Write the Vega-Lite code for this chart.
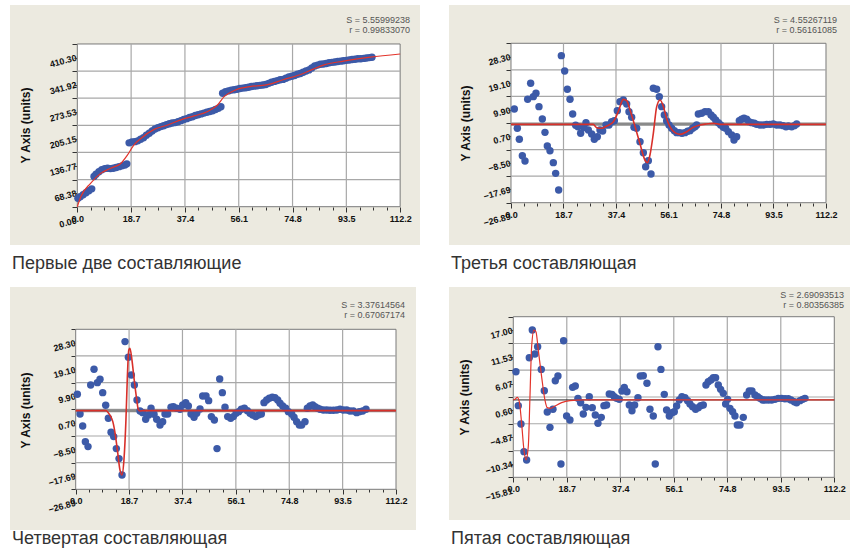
{
"$schema": "https://vega.github.io/schema/vega-lite/v6.json",
"background": "white",
"padding": {"left": 10, "top": 5, "right": 0, "bottom": 0},
"autosize": {"type": "pad"},
"config": {
  "view": {"fill": "#ECEAE0", "stroke": null},
  "axis": {"labelFont": "Liberation Sans", "labelFontSize": 9, "labelFontWeight": "bold", "labelColor": "#111111", "tickColor": "#333333", "tickSize": 5, "domain": false, "grid": false, "labelFlush": false, "labelOverlap": false, "labelBound": false, "titleFont": "Liberation Sans", "titleFontSize": 12, "titleFontWeight": "bold", "titleColor": "#111111"},
  "axisY": {"labelAngle": -15, "labelAlign": "right", "labelBaseline": "middle", "labelOffset": 13, "labelPadding": -4},
  "axisX": {"labelPadding": 2}
},
"datasets": {
  "p1": [{"x":0.2,"y":21},{"x":1,"y":25},{"x":2,"y":30},{"x":3,"y":35},{"x":4,"y":40},{"x":5,"y":45},{"x":5.8,"y":76},{"x":6.5,"y":82},{"x":7.5,"y":88},{"x":8.5,"y":93},{"x":9.5,"y":96},{"x":10.5,"y":97},{"x":11.5,"y":96},{"x":12.5,"y":97},{"x":13.5,"y":99},{"x":14.5,"y":101},{"x":15.5,"y":103},{"x":16.5,"y":105},{"x":17.2,"y":108},{"x":18,"y":161},{"x":19,"y":163},{"x":20,"y":164},{"x":21,"y":166},{"x":22,"y":170},{"x":23,"y":174},{"x":24,"y":180},{"x":25,"y":185},{"x":26,"y":191},{"x":27,"y":196},{"x":28,"y":199},{"x":29,"y":202},{"x":30,"y":204},{"x":31,"y":207},{"x":32,"y":209},{"x":33,"y":211},{"x":34,"y":212},{"x":35,"y":214},{"x":36,"y":217},{"x":37,"y":220},{"x":38,"y":222},{"x":39,"y":225},{"x":40,"y":227},{"x":41,"y":230},{"x":42,"y":232},{"x":43,"y":234},{"x":44,"y":236},{"x":45,"y":238},{"x":46,"y":240},{"x":47,"y":242},{"x":48,"y":245},{"x":49,"y":248},{"x":49.9,"y":252},{"x":50.5,"y":286},{"x":51.5,"y":290},{"x":52.5,"y":292},{"x":53.5,"y":294},{"x":54.5,"y":295},{"x":55.5,"y":296},{"x":56.5,"y":298},{"x":57.5,"y":299},{"x":58.5,"y":300},{"x":59.5,"y":301},{"x":60.5,"y":303},{"x":61.5,"y":304},{"x":62.5,"y":305},{"x":63.5,"y":306},{"x":64.5,"y":307},{"x":65.5,"y":308},{"x":66.5,"y":311},{"x":67.5,"y":314},{"x":68.5,"y":316},{"x":69.5,"y":318},{"x":70.5,"y":320},{"x":71.5,"y":321},{"x":72.5,"y":324},{"x":73.5,"y":327},{"x":74.5,"y":329},{"x":75.5,"y":331},{"x":76.5,"y":334},{"x":77.5,"y":336},{"x":78.5,"y":339},{"x":79.5,"y":342},{"x":80.5,"y":345},{"x":81.5,"y":350},{"x":82.5,"y":355},{"x":83.5,"y":357},{"x":84.5,"y":359},{"x":85.5,"y":360},{"x":86.5,"y":361},{"x":87.5,"y":363},{"x":88.5,"y":364},{"x":89.5,"y":365},{"x":90.5,"y":366},{"x":91.5,"y":367},{"x":92.5,"y":368},{"x":93.5,"y":369},{"x":94.5,"y":370},{"x":95.5,"y":371},{"x":96.5,"y":372},{"x":97.5,"y":373},{"x":98.5,"y":373},{"x":99.5,"y":374},{"x":100.5,"y":375},{"x":101.5,"y":376},{"x":102.4,"y":377}],
  "f1": [{"x":0,"y":0},{"x":1.2,"y":25},{"x":4.6,"y":59},{"x":8.1,"y":84},{"x":11.6,"y":97},{"x":15.1,"y":109},{"x":17.4,"y":130},{"x":19.7,"y":156},{"x":22.1,"y":172},{"x":26.7,"y":195},{"x":31.4,"y":206},{"x":36,"y":219},{"x":40.6,"y":229},{"x":45.3,"y":240},{"x":48.8,"y":257},{"x":51.1,"y":278},{"x":54.6,"y":293},{"x":56.9,"y":299},{"x":60,"y":303},{"x":65.7,"y":307},{"x":71.5,"y":320},{"x":78.5,"y":336},{"x":82,"y":347},{"x":85.5,"y":357},{"x":92.5,"y":367},{"x":101.8,"y":377},{"x":112.2,"y":385}],
  "p2": [{"x":1.19,"y":5.55},{"x":2.26,"y":-1.14},{"x":2.97,"y":-4.95},{"x":4.04,"y":-10.61},{"x":4.99,"y":-12.46},{"x":5.94,"y":8.9},{"x":7,"y":14.44},{"x":7.95,"y":9.83},{"x":8.9,"y":10.98},{"x":9.97,"y":6.36},{"x":11.16,"y":2.09},{"x":12.11,"y":-2.53},{"x":12.94,"y":-7.26},{"x":13.89,"y":-8.88},{"x":15.08,"y":-13.03},{"x":15.91,"y":-16.73},{"x":16.98,"y":-22.5},{"x":17.93,"y":24.03},{"x":19.12,"y":18.72},{"x":20.07,"y":12.37},{"x":21.02,"y":8.9},{"x":21.97,"y":3.82},{"x":23.03,"y":-0.1},{"x":23.86,"y":-0.57},{"x":24.81,"y":-2.87},{"x":26,"y":-0.91},{"x":26.71,"y":0.82},{"x":27.55,"y":-1.72},{"x":28.73,"y":-3.11},{"x":29.68,"y":-4.95},{"x":30.75,"y":-4.03},{"x":31.7,"y":-1.72},{"x":32.65,"y":-2.07},{"x":33.84,"y":0.01},{"x":34.91,"y":0.01},{"x":35.86,"y":1.17},{"x":36.81,"y":1.51},{"x":37.87,"y":4.98},{"x":38.82,"y":8.09},{"x":40.01,"y":8.67},{"x":41.2,"y":7.29},{"x":42.03,"y":4.63},{"x":42.98,"y":2.67},{"x":43.81,"y":-0.8},{"x":44.76,"y":-1.14},{"x":45.95,"y":-5.76},{"x":47.14,"y":-9.57},{"x":47.97,"y":-14.42},{"x":48.92,"y":-12.34},{"x":49.87,"y":-16.96},{"x":50.7,"y":12.71},{"x":51.89,"y":12.37},{"x":52.83,"y":9.83},{"x":53.67,"y":6.36},{"x":54.62,"y":3.48},{"x":55.45,"y":1.4},{"x":56.28,"y":0.01},{"x":57.23,"y":-1.14},{"x":58.18,"y":-1.95},{"x":59.01,"y":-2.64},{"x":59.96,"y":-2.64},{"x":60.91,"y":-2.87},{"x":61.98,"y":-2.64},{"x":62.93,"y":-2.18},{"x":63.76,"y":-1.95},{"x":64.71,"y":-1.14},{"x":65.54,"y":-0.57},{"x":66.13,"y":0.01},{"x":66.73,"y":3.82},{"x":67.91,"y":4.05},{"x":69.1,"y":4.63},{"x":70.29,"y":4.63},{"x":71.24,"y":3.48},{"x":72.07,"y":2.67},{"x":72.9,"y":1.74},{"x":73.85,"y":0.82},{"x":74.68,"y":0.01},{"x":75.63,"y":-0.8},{"x":76.46,"y":-1.14},{"x":77.41,"y":-2.3},{"x":78.6,"y":-3.45},{"x":79.43,"y":-5.18},{"x":80.38,"y":-4.03},{"x":81.33,"y":1.51},{"x":82.16,"y":1.98},{"x":82.99,"y":2.32},{"x":83.94,"y":1.98},{"x":84.77,"y":1.17},{"x":85.72,"y":0.82},{"x":86.67,"y":0.59},{"x":87.5,"y":0.24},{"x":88.69,"y":0.01},{"x":89.88,"y":0.01},{"x":91.07,"y":0.24},{"x":92.25,"y":0.24},{"x":93.44,"y":0.36},{"x":94.63,"y":0.01},{"x":95.81,"y":0.01},{"x":97,"y":-0.22},{"x":97.95,"y":-0.57},{"x":98.78,"y":-0.34},{"x":99.97,"y":-0.57},{"x":100.92,"y":-0.22},{"x":101.75,"y":0.36}],
  "f2": [{"x":0,"y":0.24},{"x":29.3,"y":0.24},{"x":30.5,"y":-0.91},{"x":32.3,"y":-1.14},{"x":34.1,"y":-0.34},{"x":36.5,"y":1.17},{"x":38.2,"y":4.63},{"x":40,"y":8.9},{"x":41.2,"y":8.44},{"x":42.4,"y":5.21},{"x":44.2,"y":-0.57},{"x":45.9,"y":-6.34},{"x":47.7,"y":-12.11},{"x":48.6,"y":-13.03},{"x":49.5,"y":-10.38},{"x":50.7,"y":-2.87},{"x":51.9,"y":6.36},{"x":53.1,"y":8.67},{"x":54.3,"y":6.36},{"x":55.4,"y":2.32},{"x":56.6,"y":-0.57},{"x":58.4,"y":-2.64},{"x":60.2,"y":-3.22},{"x":62.6,"y":-2.3},{"x":64.9,"y":-0.8},{"x":67.3,"y":0.01},{"x":69.7,"y":0.36},{"x":72.1,"y":0.59},{"x":74.4,"y":0.24},{"x":112.2,"y":0.24}],
  "p3": [{"x":0.58,"y":5.88},{"x":1.52,"y":-0.9},{"x":2.45,"y":-5.04},{"x":3.39,"y":-10.45},{"x":4.32,"y":-12.17},{"x":5.25,"y":9.1},{"x":6.42,"y":14.5},{"x":7.59,"y":9.9},{"x":8.52,"y":11.05},{"x":9.46,"y":6.45},{"x":10.51,"y":2.08},{"x":11.44,"y":-2.4},{"x":12.38,"y":-7.23},{"x":13.31,"y":-8.72},{"x":14.24,"y":-12.86},{"x":15.18,"y":-16.31},{"x":16.23,"y":-21.95},{"x":17.28,"y":24.05},{"x":18.45,"y":18.64},{"x":19.5,"y":12.55},{"x":20.55,"y":9.1},{"x":21.48,"y":3.92},{"x":22.53,"y":0.13},{"x":23.47,"y":-0.45},{"x":24.52,"y":-2.74},{"x":25.57,"y":-1.25},{"x":26.39,"y":1.05},{"x":27.44,"y":-1.02},{"x":28.37,"y":-2.74},{"x":29.54,"y":-4.7},{"x":30.47,"y":-3.55},{"x":31.29,"y":-0.9},{"x":32.22,"y":-0.9},{"x":33.39,"y":1.39},{"x":34.21,"y":1.62},{"x":35.38,"y":1.05},{"x":36.54,"y":0.7},{"x":37.48,"y":2.2},{"x":38.53,"y":3},{"x":39.46,"y":1.85},{"x":40.4,"y":-0.9},{"x":41.45,"y":-2.05},{"x":42.38,"y":-0.67},{"x":43.55,"y":0.82},{"x":44.48,"y":5.3},{"x":45.65,"y":5.3},{"x":46.58,"y":3.69},{"x":47.52,"y":-1.82},{"x":48.57,"y":-2.97},{"x":49.5,"y":-12.86},{"x":50.44,"y":11.17},{"x":51.37,"y":6.45},{"x":52.3,"y":1.39},{"x":53.24,"y":-1.82},{"x":54.29,"y":-2.4},{"x":55.22,"y":-1.82},{"x":56.16,"y":-0.67},{"x":57.09,"y":-0.1},{"x":58.03,"y":0.7},{"x":59.08,"y":1.05},{"x":60.13,"y":0.24},{"x":61.06,"y":-0.67},{"x":61.99,"y":-1.25},{"x":63.05,"y":-1.82},{"x":63.98,"y":-1.25},{"x":65.03,"y":-0.9},{"x":65.96,"y":3},{"x":66.9,"y":3.92},{"x":67.83,"y":4.5},{"x":68.88,"y":4.84},{"x":69.81,"y":4.73},{"x":70.75,"y":3.92},{"x":71.57,"y":2.77},{"x":72.5,"y":1.85},{"x":73.55,"y":1.05},{"x":74.49,"y":-0.1},{"x":75.65,"y":-0.9},{"x":76.47,"y":-2.05},{"x":77.4,"y":-3.55},{"x":78.34,"y":-4.7},{"x":79.16,"y":-4.7},{"x":80.32,"y":-3.55},{"x":81.14,"y":1.05},{"x":82.08,"y":1.85},{"x":83.01,"y":2.2},{"x":83.83,"y":1.62},{"x":84.76,"y":1.05},{"x":85.58,"y":0.7},{"x":86.75,"y":0.47},{"x":87.91,"y":0.47},{"x":89.08,"y":0.36},{"x":90.25,"y":0.36},{"x":91.42,"y":0.47},{"x":92.58,"y":0.7},{"x":93.75,"y":0.47},{"x":94.92,"y":0.47},{"x":96.08,"y":0.13},{"x":97.25,"y":0.13},{"x":98.42,"y":-0.45},{"x":99.35,"y":-0.1},{"x":100.52,"y":0.13},{"x":101.69,"y":0.7}],
  "f3": [{"x":0,"y":0.24},{"x":10.6,"y":0.24},{"x":11.4,"y":-0.45},{"x":12.3,"y":-1.82},{"x":13,"y":-3.55},{"x":13.8,"y":-7.57},{"x":14.6,"y":-13.32},{"x":15.5,"y":-20.22},{"x":16.2,"y":-21.95},{"x":16.9,"y":-16.77},{"x":17.6,"y":-2.97},{"x":18.1,"y":11.97},{"x":18.6,"y":21.17},{"x":19,"y":21.75},{"x":19.7,"y":17.72},{"x":20.5,"y":10.82},{"x":21.4,"y":3.92},{"x":21.9,"y":0.7},{"x":22.5,"y":0.13},{"x":23.7,"y":0.24},{"x":112.2,"y":0.24}],
  "p4": [{"x":0.93,"y":5.77},{"x":1.75,"y":-1.17},{"x":2.68,"y":-4.92},{"x":3.73,"y":-10.57},{"x":4.66,"y":-12.27},{"x":5.59,"y":8.63},{"x":6.64,"y":14.28},{"x":7.57,"y":9.38},{"x":8.51,"y":10.87},{"x":9.79,"y":6.24},{"x":10.84,"y":1.89},{"x":11.88,"y":-2.47},{"x":12.82,"y":-5.6},{"x":13.86,"y":-1.92},{"x":14.68,"y":3.93},{"x":15.61,"y":4.88},{"x":16.66,"y":-13.09},{"x":17.59,"y":12.1},{"x":18.64,"y":-3.28},{"x":19.81,"y":-4.1},{"x":20.74,"y":2.57},{"x":21.67,"y":2.84},{"x":22.6,"y":0.32},{"x":23.54,"y":-0.56},{"x":24.47,"y":-2.88},{"x":25.4,"y":-1.52},{"x":26.56,"y":0.66},{"x":27.61,"y":-1.58},{"x":28.66,"y":-3.08},{"x":29.59,"y":-4.78},{"x":30.76,"y":-3.56},{"x":31.69,"y":-1.17},{"x":32.62,"y":-1.04},{"x":33.55,"y":1.21},{"x":34.49,"y":1.14},{"x":35.3,"y":0.66},{"x":36.12,"y":0.32},{"x":37.05,"y":0.12},{"x":37.98,"y":1.82},{"x":38.8,"y":2.57},{"x":39.73,"y":1.68},{"x":40.55,"y":-1.04},{"x":41.48,"y":-2.2},{"x":42.41,"y":-1.04},{"x":43.57,"y":0.46},{"x":44.39,"y":4.88},{"x":45.44,"y":4.95},{"x":46.72,"y":3.39},{"x":47.77,"y":-1.92},{"x":48.93,"y":-3.28},{"x":49.63,"y":-13.09},{"x":50.57,"y":10.87},{"x":51.61,"y":6.24},{"x":52.78,"y":1.14},{"x":53.59,"y":-2.06},{"x":54.53,"y":-3.28},{"x":55.46,"y":-2.6},{"x":56.27,"y":-2.4},{"x":57.09,"y":-1.24},{"x":58.02,"y":-0.02},{"x":58.95,"y":0.66},{"x":60,"y":0.46},{"x":60.93,"y":-0.15},{"x":61.75,"y":-0.83},{"x":62.68,"y":-1.38},{"x":63.73,"y":-1.92},{"x":64.66,"y":-1.58},{"x":65.48,"y":-1.17},{"x":66.41,"y":-1.04},{"x":67.34,"y":3.05},{"x":68.16,"y":3.73},{"x":69.09,"y":4.07},{"x":69.91,"y":4.54},{"x":70.72,"y":4.54},{"x":71.65,"y":3.05},{"x":72.47,"y":2.16},{"x":73.4,"y":1.34},{"x":74.22,"y":-0.83},{"x":74.92,"y":0.12},{"x":75.73,"y":-1.72},{"x":76.66,"y":-2.4},{"x":77.48,"y":-3.28},{"x":78.3,"y":-5.12},{"x":79.23,"y":-5.12},{"x":80.39,"y":-3.56},{"x":81.56,"y":1},{"x":82.49,"y":1.82},{"x":83.42,"y":1.82},{"x":84.47,"y":1},{"x":85.4,"y":0.66},{"x":86.22,"y":0.32},{"x":87.15,"y":-0.02},{"x":87.96,"y":-0.02},{"x":89.13,"y":-0.02},{"x":90.3,"y":-0.02},{"x":91.46,"y":0.12},{"x":92.62,"y":0.32},{"x":93.79,"y":0.32},{"x":94.96,"y":0.25},{"x":96.12,"y":0.25},{"x":97.05,"y":-0.02},{"x":98.22,"y":-0.36},{"x":99.03,"y":-0.56},{"x":100.2,"y":-0.15},{"x":101.13,"y":0.12},{"x":101.95,"y":0.32}],
  "f4": [{"x":0,"y":0},{"x":0.58,"y":0.12},{"x":1.4,"y":0.53},{"x":2.1,"y":-0.36},{"x":2.91,"y":-4.78},{"x":3.73,"y":-10.23},{"x":4.43,"y":-12.27},{"x":5.24,"y":-9.55},{"x":5.83,"y":0.66},{"x":6.41,"y":10.87},{"x":7.22,"y":14.28},{"x":7.92,"y":13.94},{"x":8.74,"y":10.19},{"x":9.9,"y":4.75},{"x":11.07,"y":-0.02},{"x":11.88,"y":-1.58},{"x":13.05,"y":-1.72},{"x":14.56,"y":-1.24},{"x":16.89,"y":-0.56},{"x":19.81,"y":-0.15},{"x":24.47,"y":0},{"x":112.2,"y":0}]
},
"spacing": 14,
"vconcat": [
 {"hconcat": [
  {"title": {"text": "Первые две составляющие", "orient": "bottom", "anchor": "start", "offset": 10, "dx": 2, "fontSize": 18, "fontWeight": "normal", "color": "#333333", "font": "Liberation Sans"},
   "vconcat": [{
    "width": 410, "height": 240,
    "title": {"text": ["S = 5.55999238", "r = 0.99833070"], "orient": "top", "anchor": "end", "frame": "group", "offset": -30, "dx": -10, "fontSize": 9, "fontWeight": "normal", "color": "#555555", "font": "Liberation Sans", "lineHeight": 10},
    "resolve": {"axis": {"x": "independent", "y": "independent"}},
    "layer": [
     {"data": {"values": [{}]}, "mark": {"type": "rect", "fill": "white", "stroke": "#7A7A7A", "strokeWidth": 1},
      "encoding": {
       "x": {"datum": 0, "type": "quantitative", "scale": {"domain": [-23.4, 119.1], "nice": false, "zero": false}, "axis": {"orient": "bottom", "values": [0, 18.7, 37.4, 56.1, 74.8, 93.5, 112.2], "format": ".1f", "offset": -38, "title": null, "labelOverlap": false}},
       "x2": {"datum": 112.2},
       "y": {"datum": 0, "type": "quantitative", "scale": {"domain": [-96.6, 508.6], "nice": false, "zero": false}, "axis": {"orient": "left", "values": [0, 68.38, 136.77, 205.15, 273.53, 341.92, 410.3], "format": ".2f", "offset": -67, "title": "Y Axis (units)", "titleX": -45, "titleY": 120, "labelOverlap": false}},
       "y2": {"datum": 410.3}}},
     {"data": {"values": [{"g": 18.7}, {"g": 37.4}, {"g": 56.1}, {"g": 74.8}, {"g": 93.5}]}, "mark": {"type": "rule", "color": "#A8A8A8", "strokeWidth": 1.2},
      "encoding": {"x": {"field": "g", "type": "quantitative", "axis": {"orient": "bottom", "values": [4.675, 9.35, 14.025, 23.375, 28.05, 32.725, 42.075, 46.75, 51.425, 60.775, 65.45, 70.125, 79.475, 84.15, 88.825, 98.175, 102.85, 107.525], "labels": false, "tickSize": 3, "offset": -38, "title": null}}, "y": {"datum": 0, "axis": null}, "y2": {"datum": 410.3}}},
     {"data": {"values": [{"g": 68.38}, {"g": 136.77}, {"g": 205.15}, {"g": 273.53}, {"g": 341.92}]}, "mark": {"type": "rule", "color": "#A8A8A8", "strokeWidth": 1.2},
      "encoding": {"y": {"field": "g", "type": "quantitative", "axis": {"orient": "left", "values": [34.19, 102.575, 170.96, 239.34, 307.725, 376.11], "labels": false, "tickSize": 3, "offset": -67, "title": null}}, "x": {"datum": 0, "axis": null}, "x2": {"datum": 112.2}}},
     {"data": {"name": "p1"}, "mark": {"type": "circle", "size": 55, "color": "#3C5AA8", "opacity": 1},
      "encoding": {"x": {"field": "x", "type": "quantitative", "axis": null}, "y": {"field": "y", "type": "quantitative", "axis": null}}},
     {"data": {"name": "f1"}, "mark": {"type": "line", "color": "#E3342B", "strokeWidth": 1.2, "interpolate": "monotone"},
      "encoding": {"x": {"field": "x", "type": "quantitative", "axis": null}, "y": {"field": "y", "type": "quantitative", "axis": null}}}
    ]}]},
  {"title": {"text": "Третья составляющая", "orient": "bottom", "anchor": "start", "offset": 10, "dx": 2, "fontSize": 18, "fontWeight": "normal", "color": "#333333", "font": "Liberation Sans"},
   "vconcat": [{
    "width": 401, "height": 240,
    "title": {"text": ["S = 4.55267119", "r = 0.56161085"], "orient": "top", "anchor": "end", "frame": "group", "offset": -30, "dx": -13, "fontSize": 9, "fontWeight": "normal", "color": "#555555", "font": "Liberation Sans", "lineHeight": 10},
    "resolve": {"axis": {"x": "independent", "y": "independent"}},
    "layer": [
     {"data": {"values": [{}]}, "mark": {"type": "rect", "fill": "white", "stroke": "#7A7A7A", "strokeWidth": 1},
      "encoding": {
       "x": {"datum": 0, "type": "quantitative", "scale": {"domain": [-22.08, 120.75], "nice": false, "zero": false}, "axis": {"orient": "bottom", "values": [0, 18.7, 37.4, 56.1, 74.8, 93.5, 112.2], "format": ".1f", "offset": -42, "title": null, "labelOverlap": false}},
       "x2": {"datum": 112.2},
       "y": {"datum": -26.89, "type": "quantitative", "scale": {"domain": [-41.54, 41.56], "nice": false, "zero": false}, "axis": {"orient": "left", "values": [-26.89, -17.69, -8.5, 0.7, 9.9, 19.1, 28.3], "format": ".2f", "offset": -62, "title": "Y Axis (units)", "titleX": -39, "titleY": 118, "labelOverlap": false}},
       "y2": {"datum": 28.3}}},
     {"data": {"values": [{"g": 18.7}, {"g": 37.4}, {"g": 56.1}, {"g": 74.8}, {"g": 93.5}]}, "mark": {"type": "rule", "color": "#A8A8A8", "strokeWidth": 1.2},
      "encoding": {"x": {"field": "g", "type": "quantitative", "axis": {"orient": "bottom", "values": [4.675, 9.35, 14.025, 23.375, 28.05, 32.725, 42.075, 46.75, 51.425, 60.775, 65.45, 70.125, 79.475, 84.15, 88.825, 98.175, 102.85, 107.525], "labels": false, "tickSize": 3, "offset": -42, "title": null}}, "y": {"datum": -26.89, "axis": null}, "y2": {"datum": 28.3}}},
     {"data": {"values": [{"g": -17.69}, {"g": -8.5}, {"g": 0.7}, {"g": 9.9}, {"g": 19.1}]}, "mark": {"type": "rule", "color": "#A8A8A8", "strokeWidth": 1.2},
      "encoding": {"y": {"field": "g", "type": "quantitative", "axis": {"orient": "left", "values": [-22.29, -13.095, -3.9, 5.3, 14.5, 23.7], "labels": false, "tickSize": 3, "offset": -62, "title": null}}, "x": {"datum": 0, "axis": null}, "x2": {"datum": 112.2}}},
     {"data": {"values": [{}]}, "mark": {"type": "rule", "color": "#8A8A8A", "strokeWidth": 3},
      "encoding": {"y": {"datum": 0.24, "axis": null}, "x": {"datum": 0, "axis": null}, "x2": {"datum": 112.2}}},
     {"data": {"name": "p2"}, "mark": {"type": "circle", "size": 55, "color": "#3C5AA8", "opacity": 1},
      "encoding": {"x": {"field": "x", "type": "quantitative", "axis": null}, "y": {"field": "y", "type": "quantitative", "axis": null}}},
     {"data": {"name": "f2"}, "mark": {"type": "line", "color": "#D8302A", "strokeWidth": 1.6, "interpolate": "monotone"},
      "encoding": {"x": {"field": "x", "type": "quantitative", "axis": null}, "y": {"field": "y", "type": "quantitative", "axis": null}}}
    ]}]}
 ], "spacing": 29},
 {"hconcat": [
  {"title": {"text": "Четвертая составляющая", "orient": "bottom", "anchor": "start", "offset": 0, "dx": 2, "fontSize": 18, "fontWeight": "normal", "color": "#333333", "font": "Liberation Sans"},
   "vconcat": [{
    "width": 406, "height": 243,
    "title": {"text": ["S = 3.37614564", "r = 0.67067174"], "orient": "top", "anchor": "end", "frame": "group", "offset": -33, "dx": -11, "fontSize": 9, "fontWeight": "normal", "color": "#555555", "font": "Liberation Sans", "lineHeight": 10},
    "resolve": {"axis": {"x": "independent", "y": "independent"}},
    "layer": [
     {"data": {"values": [{}]}, "mark": {"type": "rect", "fill": "white", "stroke": "#7A7A7A", "strokeWidth": 1},
      "encoding": {
       "x": {"datum": 0, "type": "quantitative", "scale": {"domain": [-23.01, 119.2], "nice": false, "zero": false}, "axis": {"orient": "bottom", "values": [0, 18.7, 37.4, 56.1, 74.8, 93.5, 112.2], "format": ".1f", "offset": -41, "title": null, "labelOverlap": false}},
       "x2": {"datum": 112.2},
       "y": {"datum": -26.89, "type": "quantitative", "scale": {"domain": [-40.93, 42.89], "nice": false, "zero": false}, "axis": {"orient": "left", "values": [-26.89, -17.69, -8.5, 0.7, 9.9, 19.1, 28.3], "format": ".2f", "offset": -66, "title": "Y Axis (units)", "titleX": -44, "titleY": 123, "labelOverlap": false}},
       "y2": {"datum": 28.3}}},
     {"data": {"values": [{"g": 18.7}, {"g": 37.4}, {"g": 56.1}, {"g": 74.8}, {"g": 93.5}]}, "mark": {"type": "rule", "color": "#A8A8A8", "strokeWidth": 1.2},
      "encoding": {"x": {"field": "g", "type": "quantitative", "axis": {"orient": "bottom", "values": [4.675, 9.35, 14.025, 23.375, 28.05, 32.725, 42.075, 46.75, 51.425, 60.775, 65.45, 70.125, 79.475, 84.15, 88.825, 98.175, 102.85, 107.525], "labels": false, "tickSize": 3, "offset": -41, "title": null}}, "y": {"datum": -26.89, "axis": null}, "y2": {"datum": 28.3}}},
     {"data": {"values": [{"g": -17.69}, {"g": -8.5}, {"g": 0.7}, {"g": 9.9}, {"g": 19.1}]}, "mark": {"type": "rule", "color": "#A8A8A8", "strokeWidth": 1.2},
      "encoding": {"y": {"field": "g", "type": "quantitative", "axis": {"orient": "left", "values": [-22.29, -13.095, -3.9, 5.3, 14.5, 23.7], "labels": false, "tickSize": 3, "offset": -66, "title": null}}, "x": {"datum": 0, "axis": null}, "x2": {"datum": 112.2}}},
     {"data": {"values": [{}]}, "mark": {"type": "rule", "color": "#8A8A8A", "strokeWidth": 3},
      "encoding": {"y": {"datum": 0.24, "axis": null}, "x": {"datum": 0, "axis": null}, "x2": {"datum": 112.2}}},
     {"data": {"name": "p3"}, "mark": {"type": "circle", "size": 55, "color": "#3C5AA8", "opacity": 1},
      "encoding": {"x": {"field": "x", "type": "quantitative", "axis": null}, "y": {"field": "y", "type": "quantitative", "axis": null}}},
     {"data": {"name": "f3"}, "mark": {"type": "line", "color": "#D8302A", "strokeWidth": 1.6, "interpolate": "monotone"},
      "encoding": {"x": {"field": "x", "type": "quantitative", "axis": null}, "y": {"field": "y", "type": "quantitative", "axis": null}}}
    ]}]},
  {"title": {"text": "Пятая составляющая", "orient": "bottom", "anchor": "start", "offset": 10, "dx": 2, "fontSize": 18, "fontWeight": "normal", "color": "#333333", "font": "Liberation Sans"},
   "vconcat": [{
    "width": 401, "height": 233,
    "title": {"text": ["S = 2.69093513", "r = 0.80356385"], "orient": "top", "anchor": "end", "frame": "group", "offset": -23, "dx": -6, "fontSize": 9, "fontWeight": "normal", "color": "#555555", "font": "Liberation Sans", "lineHeight": 10},
    "resolve": {"axis": {"x": "independent", "y": "independent"}},
    "layer": [
     {"data": {"values": [{}]}, "mark": {"type": "rect", "fill": "white", "stroke": "#7A7A7A", "strokeWidth": 1},
      "encoding": {
       "x": {"datum": 0, "type": "quantitative", "scale": {"domain": [-22.47, 117.69], "nice": false, "zero": false}, "axis": {"orient": "bottom", "values": [0, 18.7, 37.4, 56.1, 74.8, 93.5, 112.2], "format": ".1f", "offset": -43, "title": null, "labelOverlap": false}},
       "x2": {"datum": 112.2},
       "y": {"datum": -15.81, "type": "quantitative", "scale": {"domain": [-24.53, 23.07], "nice": false, "zero": false}, "axis": {"orient": "left", "values": [-15.81, -10.34, -4.87, 0.6, 6.07, 11.53, 17], "format": ".2f", "offset": -64, "title": "Y Axis (units)", "titleX": -42, "titleY": 110, "labelOverlap": false}},
       "y2": {"datum": 17}}},
     {"data": {"values": [{"g": 18.7}, {"g": 37.4}, {"g": 56.1}, {"g": 74.8}, {"g": 93.5}]}, "mark": {"type": "rule", "color": "#A8A8A8", "strokeWidth": 1.2},
      "encoding": {"x": {"field": "g", "type": "quantitative", "axis": {"orient": "bottom", "values": [4.675, 9.35, 14.025, 23.375, 28.05, 32.725, 42.075, 46.75, 51.425, 60.775, 65.45, 70.125, 79.475, 84.15, 88.825, 98.175, 102.85, 107.525], "labels": false, "tickSize": 3, "offset": -43, "title": null}}, "y": {"datum": -15.81, "axis": null}, "y2": {"datum": 17}}},
     {"data": {"values": [{"g": -10.34}, {"g": -4.87}, {"g": 0.6}, {"g": 6.07}, {"g": 11.53}]}, "mark": {"type": "rule", "color": "#A8A8A8", "strokeWidth": 1.2},
      "encoding": {"y": {"field": "g", "type": "quantitative", "axis": {"orient": "left", "values": [-13.075, -7.605, -2.135, 3.335, 8.8, 14.265], "labels": false, "tickSize": 3, "offset": -64, "title": null}}, "x": {"datum": 0, "axis": null}, "x2": {"datum": 112.2}}},
     {"data": {"values": [{}]}, "mark": {"type": "rule", "color": "#222222", "strokeWidth": 1},
      "encoding": {"y": {"datum": 0, "axis": null}, "x": {"datum": 0, "axis": null}, "x2": {"datum": 112.2}}},
     {"data": {"name": "p4"}, "mark": {"type": "circle", "size": 55, "color": "#3C5AA8", "opacity": 1},
      "encoding": {"x": {"field": "x", "type": "quantitative", "axis": null}, "y": {"field": "y", "type": "quantitative", "axis": null}}},
     {"data": {"name": "f4"}, "mark": {"type": "line", "color": "#E3342B", "strokeWidth": 1.2, "interpolate": "monotone"},
      "encoding": {"x": {"field": "x", "type": "quantitative", "axis": null}, "y": {"field": "y", "type": "quantitative", "axis": null}}}
    ]}]}
 ], "spacing": 33}
]
}
